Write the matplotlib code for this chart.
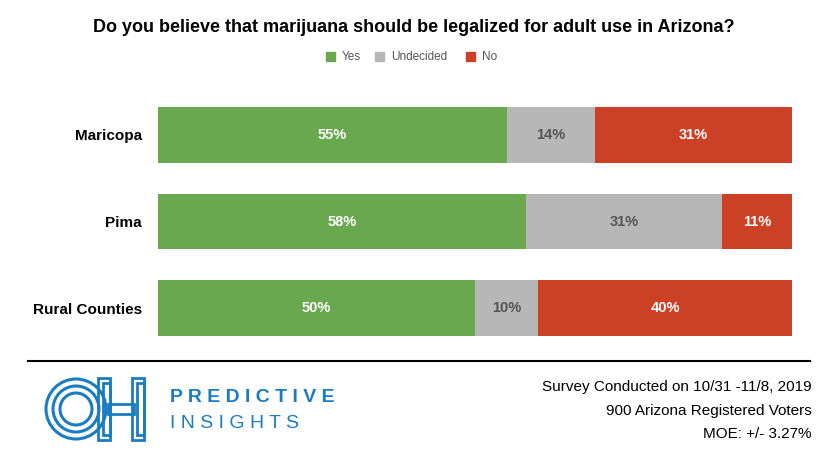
import matplotlib.pyplot as plt
from matplotlib.patches import Ellipse, Rectangle

regions = ["Maricopa", "Pima", "Rural Counties"]
yes = [55, 58, 50]
undecided = [14, 31, 10]
no = [31, 11, 40]

W, H = 829, 470
fig = plt.figure(figsize=(W / 100, H / 100), dpi=100)
plt.rcParams['font.family'] = ['Arial', 'Liberation Sans', 'DejaVu Sans']

def px(x, y):
    return x / W, 1 - y / H

ax = fig.add_axes([158 / W, 1 - 336 / H, (792 - 158) / W, (336 - 107) / H])
colors = ['#6aa84f', '#b7b7b7', '#cc4125']
left = [0, 0, 0]
for vals, c in zip([yes, undecided, no], colors):
    ax.barh(range(3), vals, left=left, height=0.64, color=c)
    for i, v in enumerate(vals):
        tc = 'white' if c != '#b7b7b7' else '#555555'
        ax.text(left[i] + v / 2, i, f"{v}%", ha='center', va='center',
                color=tc, fontsize=10.5, fontweight='bold')
    left = [l + v for l, v in zip(left, vals)]
ax.set_xlim(0, 100)
ax.set_ylim(2.32, -0.32)
ax.set_yticks(range(3))
ax.set_yticklabels(regions, fontsize=11, fontweight='bold')
ax.tick_params(left=False, bottom=False, labelbottom=False, pad=8)
for s in ax.spines.values():
    s.set_visible(False)

fig.text(*px(414, 28), "Do you believe that marijuana should be legalized for adult use in Arizona?",
         ha='center', va='center', fontsize=13, fontweight='bold')
for x, lab, c in [(330, "Yes", colors[0]), (379, "Undecided", colors[1]), (470, "No", colors[2])]:
    fig.patches.append(Rectangle(px(x - 4, 61), 9 / W, 9 / H, color=c, transform=fig.transFigure))
    fig.text(*px(x + 12, 57), lab, va='center', fontsize=8.5, color='#555555')

fig.add_artist(plt.Line2D([28 / W, 810 / W], [1 - 361 / H] * 2, color='black', lw=1.5))

blue = '#1a7cc1'
for r in [30, 23, 16]:
    fig.patches.append(Ellipse(px(76, 409), 2 * r / W, 2 * r / H, transform=fig.transFigure,
                               fill=False, ec=blue, lw=2.2))
# H of the logo as nested outlines
for d in [0, 5]:
    fig.patches.append(Rectangle(px(98 + d, 440 - d), (12 - d) / W, (62 - 2 * d) / H,
                                 transform=fig.transFigure, fill=False, ec=blue, lw=2))
    fig.patches.append(Rectangle(px(132 + d, 440 - d), (12 - d) / W, (62 - 2 * d) / H,
                                 transform=fig.transFigure, fill=False, ec=blue, lw=2))
fig.patches.append(Rectangle(px(108, 414), 26 / W, 10 / H, transform=fig.transFigure,
                             fill=False, ec=blue, lw=2))
fig.text(*px(170, 397), "P R E D I C T I V E", va='center', fontsize=14, fontweight='bold', color=blue)
fig.text(*px(170, 424), "I N S I G H T S", va='center', fontsize=14, color=blue)

for y, t in [(387, "Survey Conducted on 10/31 -11/8, 2019"),
             (411, "900 Arizona Registered Voters"),
             (434, "MOE: +/- 3.27%")]:
    fig.text(*px(812, y), t, ha='right', va='center', fontsize=11)

fig.savefig("out.png", dpi=100)
